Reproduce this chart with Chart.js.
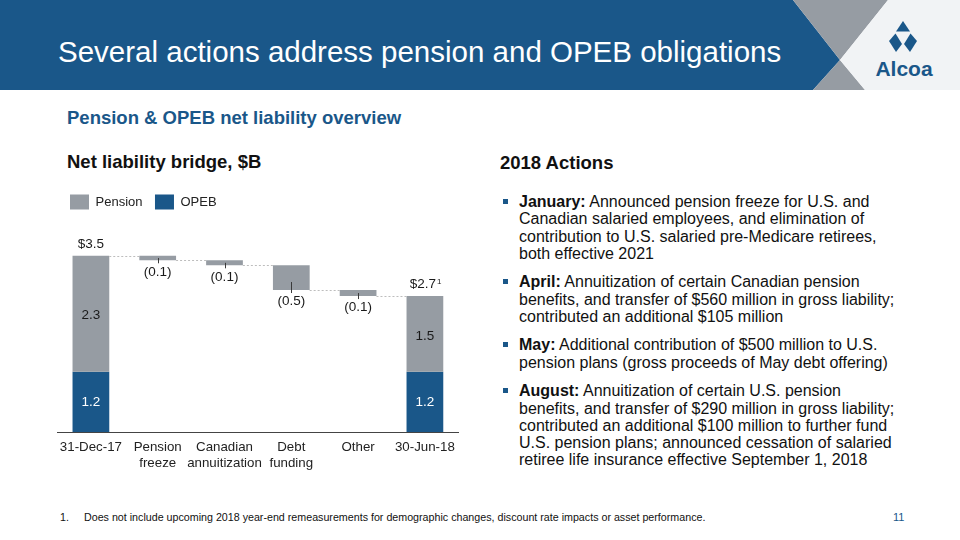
<!DOCTYPE html>
<html>
<head>
<meta charset="utf-8">
<script src="https://cdn.jsdelivr.net/npm/chart.js@4.4.0/dist/chart.umd.min.js"></script>
<style>
  body { margin: 0; width: 960px; height: 540px; overflow: hidden; background: #fff; position: relative;
         font-family: "Liberation Sans", Arial, sans-serif; color: #111; }
  .abs { position: absolute; white-space: nowrap; }
  .head { font-weight: bold; font-size: 18.5px; line-height: 18.5px; }
  #actions { left: 519px; top: 193px; font-size: 16px; line-height: 17.3px; color: #111; }
  #actions p { margin: 0 0 11.2px 0; position: relative; }
  #actions p::before { content: ''; position: absolute; left: -16px; top: 6px; width: 5px; height: 5px; background: #1a5789; }
  #chartBox { position: absolute; left: 40px; top: 182px; width: 440px; height: 296px; }
</style>
</head>
<body>

<svg class="abs" style="left:0;top:0" width="960" height="90">
  <polygon points="0,0 793,0 840,60 813,90 0,90" fill="#1a5789"/>
  <polygon points="793,0 888,0 840,60" fill="#969ca3"/>
  <polygon points="840,60 865,90 813,90" fill="#969ca3"/>
  <polygon points="888,0 960,0 960,90 865,90 840,60" fill="#f1f3f5"/>
  <text x="58" y="62" fill="#fff" font-size="29.5" font-family="Liberation Sans, Arial, sans-serif">Several actions address pension and OPEB obligations</text>
  <polygon points="903,21 910,31.5 896,31.5" fill="#1a5789"/>
  <polygon points="895.5,33.5 902,44 896,52 889,41" fill="#1a5789"/>
  <polygon points="910.5,33.5 904,44 910,52 917,41" fill="#1a5789"/>
  <text x="904" y="76" fill="#1a5789" font-size="21" font-weight="bold" text-anchor="middle" font-family="Liberation Sans, Arial, sans-serif">Alcoa</text>
</svg>

<div class="abs head" style="left:67px;top:109px;color:#1a5789;">Pension &amp; OPEB net liability overview</div>
<div class="abs head" style="left:67px;top:153px;">Net liability bridge, $B</div>
<div class="abs head" style="left:500px;top:154px;">2018 Actions</div>

<div id="chartBox"><canvas id="bridge" width="440" height="296"></canvas></div>

<div id="actions" class="abs">
  <p><b>January:</b> Announced pension freeze for U.S. and<br>Canadian salaried employees, and elimination of<br>contribution to U.S. salaried pre-Medicare retirees,<br>both effective 2021</p>
  <p><b>April:</b> Annuitization of certain Canadian pension<br>benefits, and transfer of $560 million in gross liability;<br>contributed an additional $105 million</p>
  <p><b>May:</b> Additional contribution of $500 million to U.S.<br>pension plans (gross proceeds of May debt offering)</p>
  <p><b>August:</b> Annuitization of certain U.S. pension<br>benefits, and transfer of $290 million in gross liability;<br>contributed an additional $100 million to further fund<br>U.S. pension plans; announced cessation of salaried<br>retiree life insurance effective September 1, 2018</p>
</div>

<div class="abs" style="left:60px;top:511px;font-size:10.7px;line-height:12px;color:#111;">1.</div>
<div class="abs" style="left:84px;top:511px;font-size:10.7px;line-height:12px;color:#111;">Does not include upcoming 2018 year-end remeasurements for demographic changes, discount rate impacts or asset performance.</div>
<div class="abs" style="left:893px;top:511px;font-size:11px;line-height:12px;color:#1a5789;">11</div>

<script>
// chart values, $B
const categories = ['31-Dec-17', ['Pension', 'freeze'], ['Canadian', 'annuitization'], ['Debt', 'funding'], 'Other', '30-Jun-18'];
const opebValues = [1.2, null, null, null, null, 1.2];
const pensionStart = 2.3;
const pensionChanges = [-0.09, -0.10, -0.49, -0.12];
const pensionEnd = 1.5;
const changeLabels = ['(0.1)', '(0.1)', '(0.5)', '(0.1)'];
const totalLabels = ['$3.5', '$2.7'];

const blue = '#1a5789';
const grey = '#969ca3';
Chart.defaults.font.family = '"Liberation Sans", Arial, sans-serif';

// floating bars for the bridge
const opebRanges = opebValues.map(v => v == null ? null : [0, v]);
const pensionRanges = [];
let level = opebValues[0] + pensionStart;
pensionRanges.push([opebValues[0], level]);
pensionChanges.forEach(d => {
    pensionRanges.push([level + d, level]);
    level += d;
});
pensionRanges.push([opebValues[5], opebValues[5] + pensionEnd]);

const bridgeLabels = {
    id: 'bridgeLabels',
    afterDatasetsDraw(chart) {
        const ctx = chart.ctx;
        const yScale = chart.scales.y;
        const pBars = chart.getDatasetMeta(0).data;
        const oBars = chart.getDatasetMeta(1).data;
        const last = pBars.length - 1;
        ctx.save();

        // dotted connectors between bars
        ctx.strokeStyle = '#bdbdbd';
        ctx.lineWidth = 1;
        ctx.setLineDash([2, 2]);
        for (let i = 0; i < last; i++) {
            const lvl = i === 0 ? pensionRanges[0][1] : pensionRanges[i][0];
            const yy = Math.round(yScale.getPixelForValue(lvl)) + 0.5;
            ctx.beginPath();
            ctx.moveTo(pBars[i].x + pBars[i].width / 2, yy);
            ctx.lineTo(pBars[i + 1].x - pBars[i + 1].width / 2, yy);
            ctx.stroke();
        }
        ctx.setLineDash([]);

        ctx.font = '13.5px "Liberation Sans", Arial, sans-serif';
        ctx.textAlign = 'center';
        ctx.textBaseline = 'middle';

        // change bars: small leader tick and label underneath
        for (let i = 1; i < last; i++) {
            const bar = pBars[i];
            const bottom = yScale.getPixelForValue(pensionRanges[i][0]);
            const top = yScale.getPixelForValue(pensionRanges[i][1]);
            const x = Math.round(bar.x) + 0.5;
            ctx.strokeStyle = '#3a3a3a';
            ctx.beginPath();
            ctx.moveTo(x, Math.max((top + bottom) / 2, bottom - 8));
            ctx.lineTo(x, bottom + 3);
            ctx.stroke();
            ctx.fillStyle = '#1a1a1a';
            ctx.fillText(changeLabels[i - 1], bar.x, bottom + 11.5);
        }

        // segment values and totals on the end bars
        [0, last].forEach((i, k) => {
            const pb = pBars[i];
            const ob = oBars[i];
            const pr = pensionRanges[i];
            ctx.fillStyle = '#1a1a1a';
            ctx.fillText((pr[1] - pr[0]).toFixed(1), pb.x, yScale.getPixelForValue((pr[0] + pr[1]) / 2) + 2);
            ctx.fillStyle = '#fff';
            ctx.fillText(opebValues[i].toFixed(1), ob.x, yScale.getPixelForValue(opebValues[i] / 2));
            ctx.fillStyle = '#1a1a1a';
            const ty = yScale.getPixelForValue(pr[1]) - 11.5;
            if (k === 0) {
                ctx.fillText(totalLabels[0], pb.x, ty);
            } else {
                ctx.fillText(totalLabels[1], pb.x - 2, ty);
                const w = ctx.measureText(totalLabels[1]).width;
                ctx.font = '8px "Liberation Sans", Arial, sans-serif';
                ctx.textAlign = 'left';
                ctx.fillText('1', pb.x - 2 + w / 2 + 1, ty - 3);
            }
        });
        ctx.restore();
    }
};

new Chart(document.getElementById('bridge').getContext('2d'), {
    type: 'bar',
    data: {
        labels: categories,
        datasets: [{
            label: 'Pension',
            data: pensionRanges,
            backgroundColor: grey
        }, {
            label: 'OPEB',
            data: opebRanges,
            backgroundColor: blue
        }]
    },
    options: {
        responsive: false,
        animation: false,
        layout: { padding: { left: 17.5, right: 21.7, top: 0, bottom: 0 } },
        datasets: { bar: { grouped: false, categoryPercentage: 1, barPercentage: 0.55 } },
        plugins: {
            legend: {
                position: 'top',
                align: 'start',
                labels: { boxWidth: 19, boxHeight: 15, padding: 12.5, color: '#222', font: { size: 13 } }
            },
            tooltip: { enabled: false }
        },
        scales: {
            x: {
                grid: { display: false, drawTicks: false },
                border: { color: '#444', width: 1 },
                ticks: { color: '#222', font: { size: 13.3 }, padding: 7, autoSkip: false, maxRotation: 0 }
            },
            y: { display: false, min: 0, max: 4.22 }
        }
    },
    plugins: [bridgeLabels]
});
</script>
</body>
</html>
